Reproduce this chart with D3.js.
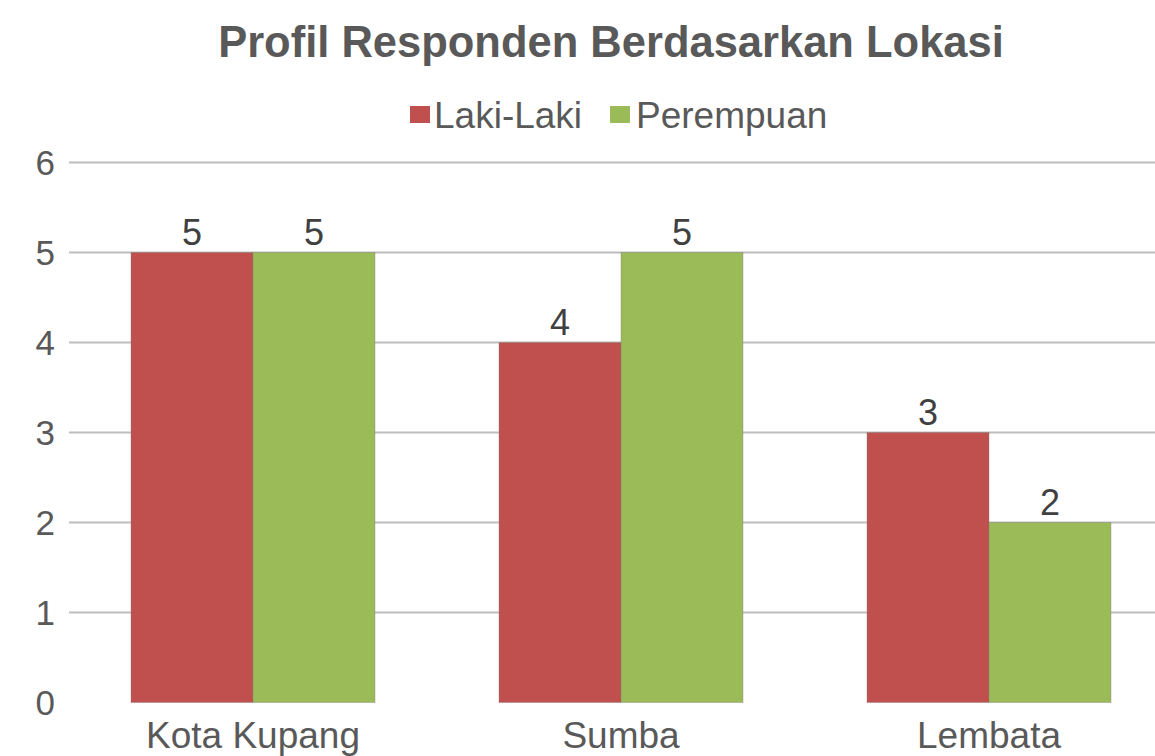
<!DOCTYPE html>
<html>
<head>
<meta charset="utf-8">
<script src="https://cdn.jsdelivr.net/npm/d3@7/dist/d3.min.js"></script>
<style>
  html, body { margin: 0; padding: 0; background: #fff; }
  svg { display: block; font-family: "Liberation Sans", Arial, sans-serif; }
</style>
</head>
<body>
<svg id="chart" width="1155" height="756"></svg>
<script>
const categories = ["Kota Kupang", "Sumba", "Lembata"];
const seriesNames = ["Laki-Laki", "Perempuan"];
const lakiLaki = [5, 4, 3];
const perempuan = [5, 5, 2];
const yTicks = [0, 1, 2, 3, 4, 5, 6];
const colors = ["#C0504D", "#9BBB59"];
const title = "Profil Responden Berdasarkan Lokasi";

const seriesValues = [lakiLaki, perempuan];
const svg = d3.select("#chart");
const textColor = "#595959";

const y = d3.scaleLinear().domain([0, 6]).range([702.5, 162.5]);
const x0 = d3.scaleBand().domain(categories).range([69, 1173])
  .paddingInner(0.337).paddingOuter(0.1685);
const x1 = d3.scaleBand().domain(seriesNames).range([0, x0.bandwidth()]).padding(0);

// gridlines
svg.append("g").selectAll("line").data(yTicks.filter(d => d > 0)).join("line")
  .attr("x1", 69).attr("x2", 1173)
  .attr("y1", d => y(d)).attr("y2", d => y(d))
  .attr("stroke", "#bdbdbd").attr("stroke-width", 2);

// y axis labels
svg.append("g").selectAll("text").data(yTicks).join("text")
  .attr("x", 55).attr("y", d => y(d)).attr("dy", "0.36em")
  .attr("text-anchor", "end").attr("font-size", 35).attr("fill", textColor)
  .text(d => d);

// bars
const groups = svg.append("g").selectAll("g").data(categories).join("g")
  .attr("transform", c => `translate(${x0(c)},0)`);

groups.selectAll("rect").data((c, i) => seriesNames.map((s, j) => ({s, v: seriesValues[j][i], j})))
  .join("rect")
  .attr("x", d => x1(d.s)).attr("width", x1.bandwidth())
  .attr("y", d => y(d.v)).attr("height", d => y(0) - y(d.v))
  .attr("fill", d => colors[d.j])
  .attr("stroke", "rgba(120,120,120,0.35)").attr("stroke-width", 1);

groups.selectAll("text").data((c, i) => seriesNames.map((s, j) => ({s, v: seriesValues[j][i], j})))
  .join("text")
  .attr("x", d => x1(d.s) + x1.bandwidth() / 2).attr("y", d => y(d.v) - 8)
  .attr("text-anchor", "middle").attr("font-size", 36).attr("fill", "#404040")
  .text(d => d.v);

// category labels
svg.append("g").selectAll("text").data(categories).join("text")
  .attr("x", c => x0(c) + x0.bandwidth() / 2).attr("y", 748)
  .attr("text-anchor", "middle").attr("font-size", 37).attr("fill", textColor)
  .text(c => c);

// title
svg.append("text").attr("x", 611).attr("y", 57)
  .attr("text-anchor", "middle").attr("font-size", 43.5).attr("font-weight", "bold")
  .attr("fill", textColor).text(title);

// legend
const legendItems = [
  {name: seriesNames[0], color: colors[0], x: 410, tx: 434},
  {name: seriesNames[1], color: colors[1], x: 610, tx: 636}
];
const lg = svg.append("g");
lg.selectAll("rect").data(legendItems).join("rect")
  .attr("x", d => d.x).attr("y", 106).attr("width", 20).attr("height", 17)
  .attr("fill", d => d.color);
lg.selectAll("text").data(legendItems).join("text")
  .attr("x", d => d.tx).attr("y", 128).attr("font-size", 37).attr("fill", textColor)
  .text(d => d.name);
</script>
</body>
</html>
